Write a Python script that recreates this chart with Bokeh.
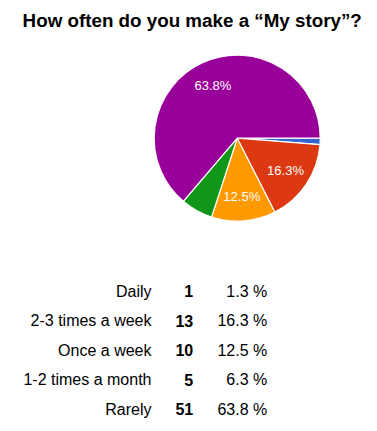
import math
from bokeh.plotting import figure
from bokeh.models import Range1d, ColumnDataSource
from bokeh.core.properties import value
from bokeh.embed import file_html
from bokeh.resources import INLINE

# ---- data ----
title_text = "How often do you make a \u201cMy story\u201d?"
categories = ["Daily", "2-3 times a week", "Once a week", "1-2 times a month", "Rarely"]
counts = [1, 13, 10, 5, 51]
percents = [1.3, 16.3, 12.5, 6.3, 63.8]
colors = ["#3366cc", "#dc3912", "#ff9900", "#109618", "#990099"]

# ---- layout (pixel-like data space, y measured up from the bottom) ----
W, H = 377, 431
p = figure(width=W, height=H, output_backend="svg", toolbar_location=None,
           x_range=Range1d(0, W), y_range=Range1d(0, H),
           x_axis_location=None, y_axis_location=None, min_border=0)
p.grid.visible = False
p.outline_line_color = None
p.background_fill_color = "white"
p.border_fill_color = "white"

FONT = value("Liberation Sans")

def py(top):  # convert a top-down pixel row to data y
    return H - top

# title
p.text(x=[191.7], y=[py(19.8)], text=[title_text], text_font=FONT, text_font_size="18.8px",
       text_font_style="bold", text_align="center", text_baseline="middle",
       text_color="#000000")

# pie
cx, cy, r = 236.7, py(137.7), 83
total = sum(counts)
starts, ends, cum = [], [], 0.0
for c in counts:
    a0 = cum / total * 2 * math.pi
    cum += c
    a1 = cum / total * 2 * math.pi
    # clockwise from 3 o'clock
    starts.append(-a1)
    ends.append(-a0)
src = ColumnDataSource(dict(start=starts, end=ends, color=colors))
p.wedge(x=cx, y=cy, radius=r, start_angle="start", end_angle="end",
        fill_color="color", line_color="white", line_width=1.2, source=src)

lx, ly, lt = [], [], []
for s, e, pc in zip(starts, ends, percents):
    if pc >= 10:
        mid = (s + e) / 2
        lx.append(cx + 0.7 * r * math.cos(mid))
        ly.append(cy + 0.7 * r * math.sin(mid))
        lt.append(f"{pc}%")
p.text(x=lx, y=ly, text=lt, text_font=FONT, text_font_size="13px",
       text_align="center", text_baseline="middle", text_color="white")

# table
row_y = [py(290.5 + 29.55 * i) for i in range(len(categories))]
p.text(x=[151] * len(categories), y=row_y, text=categories, text_font=FONT,
       text_font_size="16px", text_align="right", text_baseline="middle",
       text_color="#000000")
p.text(x=[192.7] * len(counts), y=row_y, text=[str(c) for c in counts], text_font=FONT,
       text_font_size="16px", text_font_style="bold", text_align="right",
       text_baseline="middle", text_color="#000000")
p.text(x=[266.7] * len(percents), y=row_y, text=[f"{v} %" for v in percents], text_font=FONT,
       text_font_size="16px", text_align="right", text_baseline="middle",
       text_color="#000000")

open("out.html", "w").write(file_html(p, INLINE))
